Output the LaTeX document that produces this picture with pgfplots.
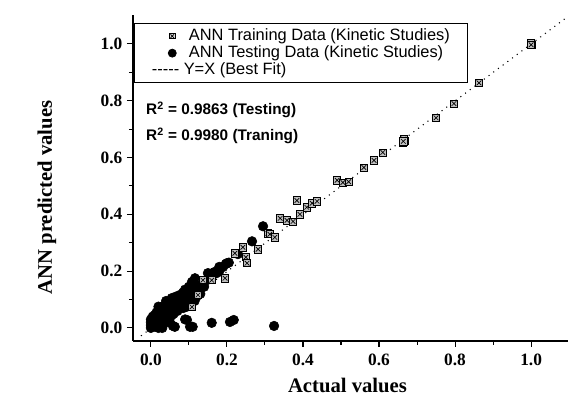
\documentclass[border=0pt]{standalone}
\usepackage{fontspec}
\setmainfont{Liberation Serif}
\setsansfont{Liberation Sans}
\usepackage{pgfplots}
\pgfplotsset{compat=1.18}
\pgfplotsset{
  legmark/.style={legend image code/.code={\path[draw=none,fill=none] (0pt,0pt) -- (33pt,0pt); \draw[##1] plot coordinates {(22.5pt,0pt)};}},
  legnone/.style={legend image code/.code={\path[draw=none,fill=none] (0pt,0pt) -- (33pt,0pt);}},
}

\pgfdeclareplotmark{sqx}{%
  \pgfpathrectangle{\pgfpoint{-\pgfplotmarksize}{-\pgfplotmarksize}}{\pgfpoint{2\pgfplotmarksize}{2\pgfplotmarksize}}%
  \pgfusepathqfillstroke
  \pgfpathmoveto{\pgfpoint{-0.65\pgfplotmarksize}{-0.65\pgfplotmarksize}}%
  \pgfpathlineto{\pgfpoint{0.65\pgfplotmarksize}{0.65\pgfplotmarksize}}%
  \pgfpathmoveto{\pgfpoint{-0.65\pgfplotmarksize}{0.65\pgfplotmarksize}}%
  \pgfpathlineto{\pgfpoint{0.65\pgfplotmarksize}{-0.65\pgfplotmarksize}}%
  \pgfusepathqstroke
}

\pgfplotstableread{
x y
0.108 0.074
0.124 0.116
0.137 0.168
0.160 0.168
0.195 0.175
0.221 0.263
0.242 0.284
0.250 0.249
0.253 0.228
0.282 0.277
0.308 0.333
0.313 0.330
0.326 0.319
0.340 0.386
0.358 0.379
0.374 0.375
0.384 0.449
0.392 0.400
0.410 0.425
0.424 0.439
0.437 0.446
0.490 0.520
0.505 0.512
0.520 0.515
0.560 0.565
0.587 0.590
0.610 0.618
0.663 0.653
0.665 0.665
0.667 0.660
0.664 0.657
0.750 0.740
0.797 0.790
0.863 0.863
1.000 1.000
0.999 1.002
1.002 0.998
1.000 0.997
}\train

\pgfplotstableread{
x y
0.000 0.000
0.000 0.010
0.000 0.020
0.000 0.030
0.005 0.040
0.005 0.015
0.010 0.005
0.010 0.020
0.010 0.045
0.015 0.030
0.015 0.055
0.020 0.000
0.020 0.010
0.020 0.040
0.020 0.060
0.020 0.075
0.025 0.020
0.025 0.070
0.030 0.000
0.030 0.030
0.030 0.050
0.030 0.075
0.035 0.040
0.035 0.065
0.040 0.020
0.040 0.060
0.040 0.085
0.040 0.095
0.045 0.050
0.045 0.075
0.050 0.020
0.050 0.035
0.050 0.070
0.050 0.092
0.055 0.060
0.055 0.045
0.055 0.105
0.060 0.050
0.060 0.080
0.060 0.100
0.065 0.070
0.065 0.092
0.065 0.110
0.070 0.060
0.070 0.090
0.070 0.110
0.075 0.100
0.075 0.080
0.076 0.116
0.080 0.080
0.080 0.110
0.085 0.070
0.085 0.095
0.085 0.125
0.090 0.090
0.090 0.120
0.090 0.135
0.095 0.075
0.095 0.110
0.100 0.100
0.100 0.130
0.100 0.140
0.100 0.145
0.105 0.085
0.105 0.120
0.110 0.110
0.110 0.140
0.110 0.158
0.115 0.095
0.115 0.130
0.120 0.110
0.120 0.150
0.124 0.126
0.125 0.140
0.130 0.120
0.130 0.140
0.140 0.145
0.108 0.162
0.116 0.175
0.140 0.160
0.150 0.170
0.150 0.193
0.155 0.190
0.165 0.195
0.168 0.197
0.173 0.193
0.180 0.200
0.180 0.215
0.190 0.215
0.197 0.225
0.200 0.228
0.205 0.230
0.229 0.260
0.266 0.305
0.295 0.358
0.058 0.007
0.063 0.004
0.090 0.030
0.095 0.028
0.103 0.004
0.110 0.004
0.160 0.018
0.208 0.021
0.218 0.028
0.324 0.007
}\test

\begin{document}
\begin{tikzpicture}
\begin{axis}[
  scale only axis, width=326.25pt, height=244.5pt,
  xmin=-0.047, xmax=1.097, ymin=-0.046, ymax=1.102,
  axis lines=left, axis line style={-, line width=0.8pt},
  xtick={0,0.2,0.4,0.6,0.8,1}, ytick={0,0.2,0.4,0.6,0.8,1},
  minor tick num=1,
  tick align=outside, major tick length=4.5pt, minor tick length=3pt,
  tick style={black, line width=0.8pt},
  /pgf/number format/fixed, /pgf/number format/fixed zerofill,
  /pgf/number format/precision=1, /pgf/number format/assume math mode=true,
  tick label style={font=\bfseries\fontsize{13}{13}\selectfont},
  xticklabel style={yshift=-2pt},
  xlabel={Actual values}, ylabel={ANN predicted values},
  every axis x label/.style={at={(axis description cs:0.493,-0.135)}, anchor=center,
    font=\bfseries\fontsize{15.5}{16}\selectfont},
  every axis y label/.style={at={(axis description cs:-0.198,0.44)}, anchor=center, rotate=90,
    font=\bfseries\fontsize{15.5}{16}\selectfont},
  legend style={at={(axis description cs:0.002,0.975)}, anchor=north west,
    draw=black, line width=0.6pt, font=\sffamily\fontsize{12.3}{13}\selectfont,
    inner xsep=6pt, inner ysep=3pt,
    nodes={text height=9pt, text depth=3pt, inner ysep=0.4pt}},
  legend cell align=left,
]
\coordinate (bl) at (rel axis cs:0,0);
\coordinate (tr) at (rel axis cs:1,1);
\addplot[only marks, mark=*, mark size=3.6pt, black, forget plot] table {\test};
\addplot[only marks, mark=sqx, mark size=2.7pt, draw=black, fill=gray!50, line width=0.5pt, forget plot] table {\train};
\addplot[black, line width=0.8pt, dash pattern=on 0.8pt off 3.6pt, forget plot] coordinates {(-0.026,-0.028) (1.097,1.097)};
\addlegendimage{legmark, only marks, mark=sqx, mark size=2pt, draw=black, fill=gray!30, line width=0.5pt}
\addlegendentry{ANN Training Data (Kinetic Studies)\rule{5pt}{0pt}}
\addlegendimage{legmark, only marks, mark=*, mark size=3pt, black}
\addlegendentry{ANN Testing Data (Kinetic Studies)}
\addlegendimage{legnone}
\addlegendentry{\hspace{-27.75pt}-\kern0pt-\kern0pt-\kern0pt-\kern0pt- Y=X (Best Fit)}
\node[anchor=west, font=\sffamily\bfseries\fontsize{11.5}{12}\selectfont, inner sep=0pt] at (axis cs:-0.013,0.768) {R\textsuperscript{2} = 0.9863 (Testing)};
\node[anchor=west, font=\sffamily\bfseries\fontsize{11.5}{12}\selectfont, inner sep=0pt] at (axis cs:-0.013,0.676) {R\textsuperscript{2} = 0.9980 (Traning)};
\end{axis}
\pgfresetboundingbox
\path[use as bounding box] ([xshift=-99.75pt,yshift=-46.5pt]bl) rectangle ([yshift=11.25pt]tr);
\end{tikzpicture}
\end{document}
